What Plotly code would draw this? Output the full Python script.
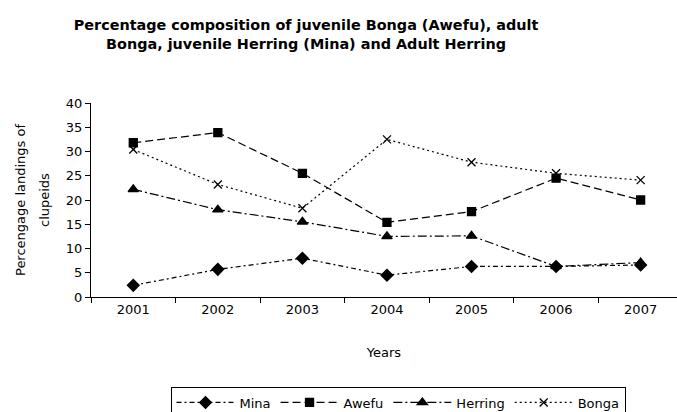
import plotly.graph_objects as go

# Landing composition by year (percent of clupeid landings)
years = ["2001", "2002", "2003", "2004", "2005", "2006", "2007"]
mina = [2.4, 5.7, 8.0, 4.5, 6.3, 6.3, 6.6]
awefu = [31.8, 33.9, 25.5, 15.4, 17.6, 24.5, 20.0]
herring = [22.2, 18.0, 15.5, 12.5, 12.6, 6.3, 7.1]
bonga = [30.4, 23.2, 18.3, 32.5, 27.8, 25.5, 24.1]

FONT = "DejaVu Sans, Arial, sans-serif"

series = [
    ("Mina", mina, "5px,3px,2px,3px", "diamond", 9),
    ("Awefu", awefu, "8px,4px", "square", 8),
    ("Herring", herring, "9px,3px,2px,3px", "triangle-up", 9),
    ("Bonga", bonga, "2px,3px", "x-thin-open", 8),
]

fig = go.Figure()
for name, vals, dash, sym, size in series:
    fig.add_trace(go.Scatter(
        x=years, y=vals, name=name, mode="lines+markers",
        line=dict(color="black", width=1.2, dash=dash),
        marker=dict(symbol=sym, size=size, color="black",
                    line=dict(color="black", width=1.3)),
    ))

fig.update_layout(
    width=677, height=412,
    margin=dict(l=91, r=0, t=103, b=115),
    paper_bgcolor="white", plot_bgcolor="white",
    font=dict(family=FONT, size=13, color="black"),
    title=dict(
        text="<b>Percentage composition of juvenile Bonga (Awefu), adult<br>"
             "Bonga, juvenile Herring (Mina) and Adult Herring</b>",
        x=306 / 677, xanchor="center", xref="container",
        y=1 - 30 / 412, yanchor="top", yref="container",
        font=dict(family=FONT, size=14.4, color="black"),
    ),
    xaxis=dict(
        type="category", range=[-0.5, 6.43],
        showline=True, linecolor="black", linewidth=1,
        ticks="outside", tickson="boundaries", ticklen=5, tickcolor="black",
        showgrid=False, zeroline=False,
        tickfont=dict(family=FONT, size=13),
        title=dict(text="Years", font=dict(family=FONT, size=13), standoff=32),
    ),
    yaxis=dict(
        range=[0, 40], dtick=5,
        showline=True, linecolor="black", linewidth=1,
        ticks="outside", ticklen=5, tickcolor="black",
        showgrid=False, zeroline=False,
        tickfont=dict(family=FONT, size=13),
    ),
    legend=dict(
        orientation="h", x=398 / 677, xanchor="center", xref="container",
        y=1 - 386.5 / 412, yanchor="top", yref="container",
        bordercolor="black", borderwidth=1,
        font=dict(family=FONT, size=13),
        itemwidth=58, tracegroupgap=0,
    ),
    showlegend=True,
)

# Two-line rotated y-axis title
for label, shift in (("Percengage landings of", -71), ("clupeids", -47)):
    fig.add_annotation(
        text=label, textangle=-90,
        xref="paper", yref="paper", x=0, y=0.5, xshift=shift,
        xanchor="center", yanchor="middle", showarrow=False,
        font=dict(family=FONT, size=13),
    )

fig.write_html("out.html")
